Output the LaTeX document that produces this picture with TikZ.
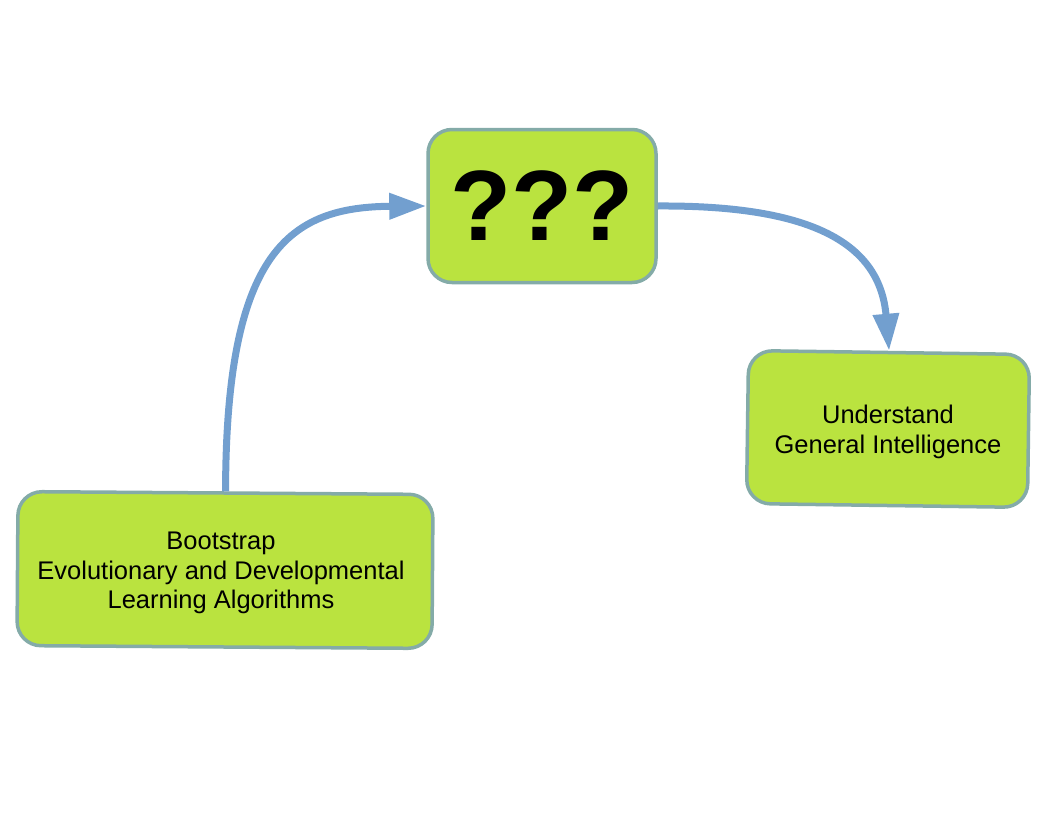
\documentclass[tikz,border=0pt]{standalone}
\usepackage{fontspec}
\setmainfont{Liberation Sans}
\usetikzlibrary{arrows.meta}
\definecolor{boxfill}{HTML}{BAE33F}
\definecolor{boxline}{HTML}{84ABA8}
\definecolor{arrowblue}{HTML}{729FCF}
\tikzset{
  gbox/.style={draw=boxline, line width=3.5pt, fill=boxfill, rounded corners=24pt,
    inner sep=0pt},
  btext/.style={align=center, inner sep=0pt, font=\fontsize{25.5}{29.5}\selectfont},
  flow/.style={draw=arrowblue, line width=7pt,
    -{Triangle[length=37pt,width=25pt]}}
}
\begin{document}
\begin{tikzpicture}[x=1pt,y=-1pt]
\useasboundingbox (0,0) rectangle (1056,816);
\node[gbox, minimum width=228pt, minimum height=153pt, font=\fontsize{100}{100}\selectfont\bfseries] (qq) at (542,206)
  {???};
\node[gbox, minimum width=415pt, minimum height=154pt, rotate=-0.4] (boot) at (225,570) {};
\node[btext] (boottext) at (221,573)
  {Bootstrap\\Evolutionary and Developmental\\Learning Algorithms};
\node[gbox, minimum width=281pt, minimum height=153pt, rotate=-0.8] (und) at (888,429) {};
\node[btext] (undtext) at (888,432) {Understand\\General Intelligence};
\draw[flow] (boot.north) .. controls (226,250) and (290,207) .. (qq.west);
\draw[flow] (qq.east) .. controls (815,205) and (880,245) .. (und.north);
\end{tikzpicture}
\end{document}
